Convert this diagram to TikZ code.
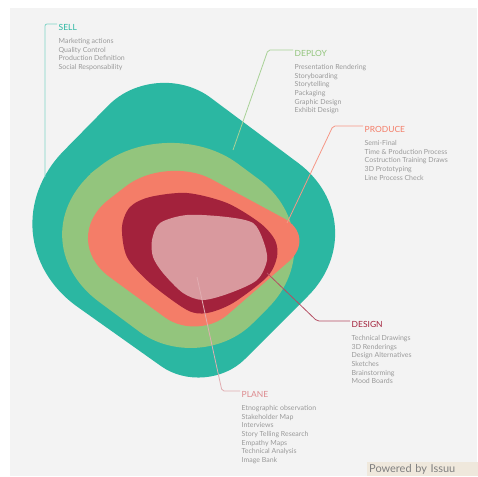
\documentclass[tikz,border=0pt]{standalone}
\usepackage{fontspec}
\setmainfont{Lato}
\usetikzlibrary{positioning}

\definecolor{bgc}{HTML}{F3F3F3}
\definecolor{sellc}{HTML}{2BB7A2}
\definecolor{deployc}{HTML}{93C57D}
\definecolor{producec}{HTML}{F47D68}
\definecolor{designc}{HTML}{A3223C}
\definecolor{planec}{HTML}{D9999E}
\definecolor{itemc}{HTML}{9A9A9A}
\definecolor{wmc}{HTML}{EFE8DC}

\begin{document}
\begin{tikzpicture}[x=1bp, y=-1bp,
  head/.style={anchor=west, inner sep=1.5bp, font=\fontsize{8.5}{10}\selectfont},
  items/.style={inner sep=1.5bp, align=left, text=itemc, font=\fontsize{7}{8.7}\selectfont},
  lead/.style={line width=0.8bp, rounded corners=2bp}]
\useasboundingbox (0,0) rectangle (477,477);
\fill [white] (0,0) rectangle (477,477);
\fill [bgc] (10,8) rectangle (477,476);

% layers, outside in
\fill [sellc] (67.5,147) [rounded corners=68bp] -- (156,57) [rounded corners=102bp] -- (380,224) [rounded corners=55bp] -- (206,398) [rounded corners=121bp] -- (-21,237) [sharp corners] -- cycle;
\fill [deployc] (90,174) [rounded corners=86bp] -- (168.6,112.4) [rounded corners=99bp] -- (338,238) [rounded corners=75bp] -- (199.7,376.3) [rounded corners=110bp] -- (11,236.7) [sharp corners] -- cycle;
\fill [producec] (112,197) [rounded corners=51bp] -- (166.5,154.9) [rounded corners=38bp] -- (317.5,236.5) [rounded corners=40bp] -- (197.3,341) [rounded corners=64bp] -- (58.1,239.4) [sharp corners] -- cycle;
\fill [designc] plot [smooth cycle] coordinates {(122,227) (130,207) (150,197) (187,193) (227,203) (260,223) (275,240) (277,257) (267,277) (233,303) (207,313) (187,310) (150,283) (127,257)};
\fill [planec] plot [smooth cycle] coordinates {(152,240) (160,223) (187,215) (227,217) (253,223) (263,240) (267,260) (257,280) (230,293) (203,300) (183,293) (163,273) (153,257)};

% labels
\node (sell) [head, text=sellc] at (57,27) {SELL};
\node (sellitems) [items, below=5bp of sell.south west, anchor=north west] {Marketing actions\\Quality Control\\Production Definition\\Social Responsability};
\node (deploy) [head, text=deployc] at (293,53) {DEPLOY};
\node (deployitems) [items, below=5bp of deploy.south west, anchor=north west] {Presentation Rendering\\Storyboarding\\Storytelling\\Packaging\\Graphic Design\\Exhibit Design};
\node (produce) [head, text=producec] at (363,129) {PRODUCE};
\node (produceitems) [items, below=5bp of produce.south west, anchor=north west] {Semi-Final\\Time \& Production Process\\Costruction Training Draws\\3D Prototyping\\Line Process Check};
\node (design) [head, text=designc] at (350,324) {DESIGN};
\node (designitems) [items, below=5bp of design.south west, anchor=north west] {Technical Drawings\\3D Renderings\\Design Alternatives\\Sketches\\Brainstorming\\Mood Boards};
\node (plane) [head, text=planec!90!red] at (240,394) {PLANE};
\node (planeitems) [items, below=5bp of plane.south west, anchor=north west] {Etnographic observation\\Stakeholder Map\\Interviews\\Story Telling Research\\Empathy Maps\\Technical Analysis\\Image Bank};

% leader lines
\coordinate (sellp) at (45,177);
\coordinate (deployp) at (233,150);
\coordinate (deployb) at (268,50);
\coordinate (producep) at (287,223);
\coordinate (produceb) at (333,126);
\coordinate (designp) at (267,273);
\coordinate (designb) at (317,321);
\coordinate (planep) at (197,277);
\coordinate (planeb) at (222,391);
\draw [lead, sellc!60] (sellp) |- ([yshift=3bp]sell.west);
\draw [lead, deployc!80] (deployp) -- (deployb) -- ([yshift=3bp]deploy.west);
\draw [lead, producec!80] (producep) -- (produceb) -- ([yshift=3bp]produce.west);
\draw [lead, designc!80] (designp) -- (designb) -- ([yshift=3bp]design.west);
\draw [lead, planec!80] (planep) -- (planeb) -- ([yshift=3bp]plane.west);

\node (wm) [anchor=north west, fill=wmc, text=black!50, inner sep=2bp, text width=120bp, minimum height=14bp, font=\fontsize{11}{12}\selectfont] at (367,462) {Powered by Issuu};
\end{tikzpicture}
\end{document}
